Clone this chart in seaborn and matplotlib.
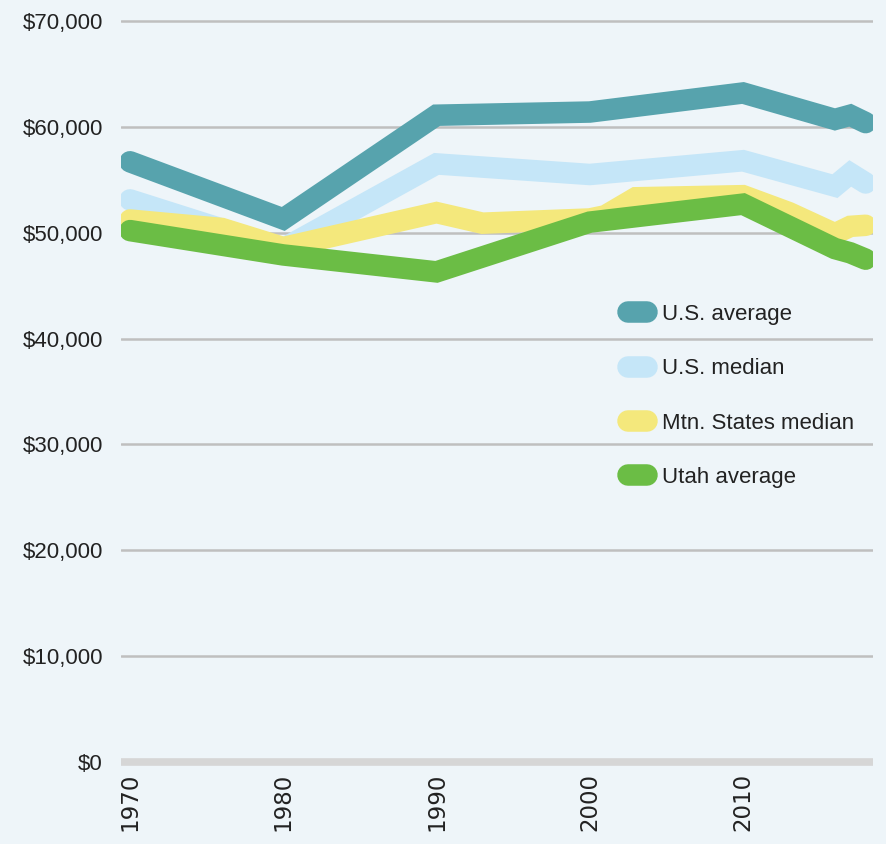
import numpy as np
import pandas as pd
import matplotlib
matplotlib.use('Agg')
import matplotlib.pyplot as plt
import seaborn as sns

# values
us_avg_years = [1970, 1980, 1990, 2000, 2010, 2016, 2017, 2018]
us_avg = [56700, 51300, 61100, 61400, 63200, 60700, 61100, 60400]

us_med_years = [1970, 1980, 1990, 2000, 2010, 2016, 2017, 2018]
us_med = [53100, 48500, 56500, 55500, 56800, 54400, 55600, 54700]

mtn_years = [1970, 1976, 1980, 1990, 1993, 2000, 2001, 2003, 2010, 2013, 2016, 2017, 2018]
mtn_med = [51200, 50400, 48600, 51900, 50900, 51300, 51600, 53300, 53500, 51900, 49900, 50600, 50700]

utah_years = [1970, 1980, 1990, 2000, 2010, 2016, 2017, 2018]
utah_avg = [50200, 47900, 46300, 51000, 52700, 48500, 48100, 47500]

series_names = ['U.S. average', 'U.S. median', 'Mtn. States median', 'Utah average']
colors = ['#57a3ad', '#c5e6f8', '#f4e87c', '#6bbd45']

x_ticks = [1970, 1980, 1990, 2000, 2010]
y_ticks = [0, 10000, 20000, 30000, 40000, 50000, 60000, 70000]

df = pd.concat([
    pd.DataFrame({'year': us_avg_years, 'income': us_avg, 'series': series_names[0]}),
    pd.DataFrame({'year': us_med_years, 'income': us_med, 'series': series_names[1]}),
    pd.DataFrame({'year': mtn_years, 'income': mtn_med, 'series': series_names[2]}),
    pd.DataFrame({'year': utah_years, 'income': utah_avg, 'series': series_names[3]}),
], ignore_index=True)

bg = '#eef5f9'
sns.set_style('white')
plt.rcParams['font.family'] = ['Liberation Sans', 'DejaVu Sans']

W, H = 887, 844
fig = plt.figure(figsize=(W / 100, H / 100), dpi=100, facecolor=bg)

# axes placed so that 1970 -> x=130px, 2010 -> x=743px, $0 -> y=762px, $70k -> y=21px
px_yr = (743 - 130) / 40
px_val = (762 - 21) / 70000
x0, x1 = 1970 - (130 - 121) / px_yr, 1970 + (873 - 130) / px_yr
y0, y1 = -1000, 71000
left = 121
bottom_px = 762 + (0 - y0) * px_val
top_px = 21 - (y1 - 70000) * px_val
ax = fig.add_axes([left / W, 1 - bottom_px / H, (873 - 121) / W, (bottom_px - top_px) / H])
ax.set_facecolor(bg)

sns.lineplot(data=df, x='year', y='income', hue='series', hue_order=series_names,
             palette=colors, linewidth=15.5, sort=False, estimator=None,
             solid_capstyle='round', solid_joinstyle='miter', ax=ax, legend=False, zorder=3)

ax.set_xlim(x0, x1)
ax.set_ylim(y0, y1)

# gridlines
for v in y_ticks[1:]:
    ax.axhline(v, color='#bfbfbf', linewidth=1.8, zorder=1)
ax.axhline(0, color='#d6d6d6', linewidth=5.5, zorder=1)

for s in ax.spines.values():
    s.set_visible(False)

ax.set_yticks(y_ticks)
ax.set_yticklabels(['${:,.0f}'.format(v) for v in y_ticks], fontsize=16, color='#222222')
ax.set_xticks(x_ticks)
ax.set_xticklabels([str(v) for v in x_ticks], rotation=90, fontsize=16.5,
                   family='DejaVu Sans', color='#222222', va='top')
ax.tick_params(axis='y', length=0, pad=13)
ax.tick_params(axis='x', length=0, pad=0)
ax.set_xlabel('')
ax.set_ylabel('')

handles = ax.get_lines()[:4]
leg = ax.legend(handles, series_names, frameon=False, fontsize=16,
                loc='upper left', bbox_to_anchor=(628 / W, 1 - 304 / H),
                bbox_transform=fig.transFigure, borderpad=0, borderaxespad=0,
                handlelength=0.85, handletextpad=0.7, labelspacing=1.5)
for t in leg.get_texts():
    t.set_color('#222222')

fig.savefig('out.png', dpi=100, facecolor=bg)
